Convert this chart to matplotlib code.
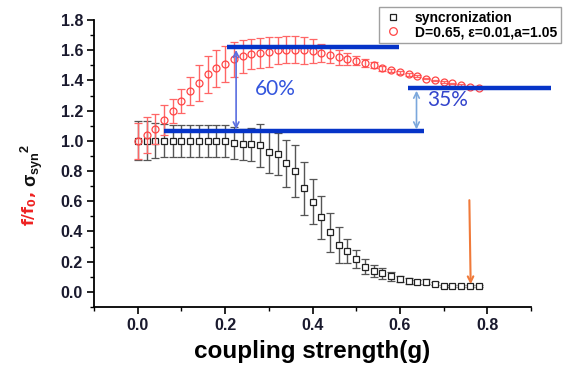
import matplotlib
matplotlib.use("Agg")
import matplotlib.pyplot as plt
from matplotlib.lines import Line2D

# ============================================================
# Data
# ============================================================

coupling = [0.00, 0.02, 0.04, 0.06, 0.08, 0.10, 0.12, 0.14, 0.16, 0.18,
            0.20, 0.22, 0.24, 0.26, 0.28, 0.30, 0.32, 0.34, 0.36, 0.38,
            0.40, 0.42, 0.44, 0.46, 0.48, 0.50, 0.52, 0.54, 0.56, 0.58,
            0.60, 0.62, 0.64, 0.66, 0.68, 0.70, 0.72, 0.74, 0.76, 0.78]

sync_val = [1.00, 1.00, 1.00, 1.00, 1.00, 1.00, 1.00, 1.00, 1.00, 1.00,
            1.00, 0.987, 0.976, 0.976, 0.97, 0.927, 0.912, 0.85, 0.80, 0.685,
            0.596, 0.493, 0.393, 0.31, 0.27, 0.215, 0.166, 0.137, 0.122, 0.104,
            0.085, 0.071, 0.066, 0.068, 0.055, 0.04, 0.04, 0.04, 0.04, 0.04]

sync_err = [0.13, 0.13, 0.115, 0.11, 0.105, 0.105, 0.105, 0.105, 0.105, 0.105,
            0.105, 0.105, 0.10, 0.11, 0.14, 0.14, 0.14, 0.155, 0.17, 0.175,
            0.15, 0.14, 0.13, 0.12, 0.08, 0.06, 0.05, 0.04, 0.035, 0.03,
            0.02, 0.02, 0.015, 0.015, 0.01, 0.005, 0.005, 0.005, 0.005, 0.005]

freq_val = [1.00, 1.04, 1.08, 1.14, 1.20, 1.265, 1.33, 1.385, 1.44, 1.48,
            1.51, 1.54, 1.56, 1.575, 1.58, 1.59, 1.60, 1.605, 1.605, 1.60,
            1.595, 1.58, 1.57, 1.555, 1.545, 1.53, 1.515, 1.50, 1.48, 1.468,
            1.455, 1.44, 1.428, 1.413, 1.40, 1.39, 1.38, 1.37, 1.358, 1.347]

freq_err = [0.12, 0.12, 0.10, 0.10, 0.08, 0.08, 0.09, 0.12, 0.12, 0.12,
            0.12, 0.115, 0.11, 0.10, 0.10, 0.10, 0.09, 0.09, 0.09, 0.09,
            0.08, 0.06, 0.055, 0.05, 0.04, 0.03, 0.025, 0.02, 0.015, 0.01,
            0.01, 0.01, 0.005, 0.005, 0.005, 0.005, 0.005, 0.005, 0.005, 0.005]

sync_label = "syncronization"
freq_label = "D=0.65, \u03b5=0.01,a=1.05"

# annotation levels
peak_level = 1.622
base_level = 1.066
end_level = 1.347

# ============================================================
# Plot
# ============================================================

plt.rcParams["font.family"] = ["Liberation Sans", "DejaVu Sans"]
plt.rcParams["mathtext.fontset"] = "custom"
plt.rcParams["mathtext.rm"] = "Liberation Sans"
plt.rcParams["mathtext.bf"] = "Liberation Sans:bold"
plt.rcParams["mathtext.it"] = "Liberation Sans:italic"
tick_color = "#1a1a2e"

fig = plt.figure(figsize=(5.74, 3.72), dpi=100)
ax = fig.add_axes([0.164, 0.175, 0.761, 0.771])

ax.errorbar(coupling, sync_val, yerr=sync_err, fmt="s", ms=4.2, mfc="white",
            mec="#222222", mew=0.9, ecolor="#555555", elinewidth=1.0,
            capsize=3, capthick=1.0, zorder=3)
ax.errorbar(coupling, freq_val, yerr=freq_err, fmt="o", ms=5.0, mfc="none",
            mec="#ff4444", mew=0.9, ecolor="#ff6666", elinewidth=1.0,
            capsize=3, capthick=1.0, zorder=4)

# blue reference lines
blue = "#0634c8"
ax.plot([0.205, 0.598], [peak_level, peak_level], color=blue, lw=3.2, zorder=6,
        solid_capstyle="butt")
ax.plot([0.06, 0.656], [base_level, base_level], color=blue, lw=3.2, zorder=6,
        solid_capstyle="butt")
ax.plot([0.619, 0.947], [end_level, end_level], color=blue, lw=3.2, zorder=6,
        solid_capstyle="butt", clip_on=False)

ax.annotate("", xy=(0.225, peak_level - 0.02), xytext=(0.225, base_level + 0.01),
            arrowprops=dict(arrowstyle="<->", color="#5a6ee0", lw=1.2,
                            shrinkA=0, shrinkB=0), zorder=7)
ax.text(0.315, 1.345, "60%", color="#3355dd", fontsize=15,
        family=["Lato", "DejaVu Sans"], ha="center", va="center")

ax.annotate("", xy=(0.638, end_level - 0.015), xytext=(0.638, base_level + 0.01),
            arrowprops=dict(arrowstyle="<->", color="#7ba7dc", lw=1.2,
                            shrinkA=0, shrinkB=0), zorder=7)
ax.text(0.71, 1.27, "35%", color="#3344cc", fontsize=15,
        family=["Lato", "DejaVu Sans"], ha="center", va="center")

ax.annotate("", xy=(0.762, 0.05), xytext=(0.759, 0.607),
            arrowprops=dict(arrowstyle="->", color="#f07a3a", lw=1.5,
                            shrinkA=0, shrinkB=0), zorder=7)

ax.set_xlim(-0.1, 0.9)
ax.set_ylim(-0.1, 1.8)
ax.set_xticks([0.0, 0.2, 0.4, 0.6, 0.8])
ax.set_xticks([-0.1, 0.1, 0.3, 0.5, 0.7, 0.9], minor=True)
ax.set_yticks([0.0, 0.2, 0.4, 0.6, 0.8, 1.0, 1.2, 1.4, 1.6, 1.8])
ax.set_yticks([-0.1, 0.1, 0.3, 0.5, 0.7, 0.9, 1.1, 1.3, 1.5, 1.7], minor=True)
ax.set_xticklabels(["0.0", "0.2", "0.4", "0.6", "0.8"])
ax.set_yticklabels(["0.0", "0.2", "0.4", "0.6", "0.8", "1.0", "1.2", "1.4", "1.6", "1.8"])

for side in ["top", "right"]:
    ax.spines[side].set_visible(False)
for side in ["left", "bottom"]:
    ax.spines[side].set_linewidth(1.3)

ax.tick_params(which="major", direction="out", length=5, width=1.2,
               labelsize=11.5, labelcolor=tick_color, pad=3)
ax.tick_params(which="minor", direction="out", length=3, width=1.0)
for lbl in ax.get_xticklabels() + ax.get_yticklabels():
    lbl.set_fontweight("bold")

ax.set_xlabel("coupling strength(g)", fontsize=17.5, fontweight="bold", labelpad=5)

# two-colour y label
fig.text(0.052, 0.438, r"$\mathbf{f/f_0,}$", color="#ee2222", fontsize=11.5,
         math_fontfamily="dejavusans", rotation=90, ha="center", va="center")
fig.text(0.055, 0.556, r"$\mathbf{\sigma_{syn}{}^{2}}$", color="#111111", fontsize=13,
         rotation=90, ha="center", va="center")

handles = [
    Line2D([], [], ls="none", marker="s", ms=4.5, mfc="white", mec="#222222", mew=0.9),
    Line2D([], [], ls="none", marker="o", ms=5.5, mfc="none", mec="#ff4444", mew=0.9),
]
leg = fig.legend(handles, [sync_label, freq_label], loc="upper left",
                 bbox_to_anchor=(0.660, 0.981), borderaxespad=0.0,
                 frameon=True, fancybox=False, edgecolor="#888888",
                 handlelength=1.4, handletextpad=0.9, borderpad=0.3,
                 labelspacing=0.0, prop={"weight": "bold", "size": 10})
leg.get_frame().set_linewidth(1.0)

fig.savefig("out.png", dpi=100)
